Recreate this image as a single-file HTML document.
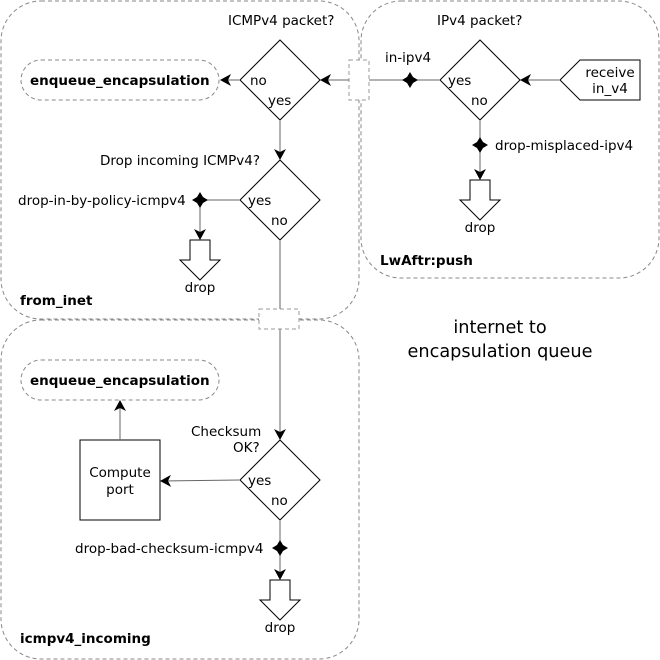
<!DOCTYPE html>
<html><head><meta charset="utf-8"><style>body{margin:0;background:#fff}svg{display:block}</style></head><body>
<svg width="660" height="660" viewBox="0 0 660 660" xmlns="http://www.w3.org/2000/svg" font-family="DejaVu Sans, Liberation Sans, sans-serif" font-size="13.5">
<defs>
<marker id="a" markerWidth="12" markerHeight="12" refX="10" refY="6" orient="auto" markerUnits="userSpaceOnUse"><path d="M0,0 L11,6 L0,12 L3,6 Z" fill="#000"/></marker>
</defs>
<g fill="none" stroke="#888" stroke-dasharray="4,3">
<rect x="1" y="1" width="358" height="318" rx="40"/>
<rect x="361" y="1" width="298" height="277" rx="40"/>
<rect x="1" y="320" width="358" height="339" rx="40"/>
<rect x="21" y="60" width="198" height="40" rx="20"/>
<rect x="21" y="360" width="198" height="40" rx="20"/>
</g>
<g fill="#fff" stroke="#999" stroke-dasharray="4,3">
<rect x="349" y="60" width="20" height="40"/>
<rect x="259" y="309" width="40" height="20"/>
</g>
<g stroke="#000" fill="#fff">
<polygon points="280,40 320,80 280,120 240,80"/>
<polygon points="480,40 520,80 480,120 440,80"/>
<polygon points="280,160 320,200 280,240 240,200"/>
<polygon points="280,440 320,480 280,520 240,480"/>
<polygon points="560,80 580,60 640,60 640,100 580,100"/>
<rect x="80" y="440" width="80" height="80"/>
<polygon points="190,240 210,240 210,260 220,260 200,280 180,260 190,260"/>
<polygon points="470,180 490,180 490,200 500,200 480,220 460,200 470,200"/>
<polygon points="270,580 290,580 290,600 300,600 280,620 260,600 270,600"/>
</g>
<g stroke="#666" fill="none">
<line x1="560" y1="80" x2="521" y2="80" marker-end="url(#a)"/>
<line x1="440" y1="80" x2="369" y2="80"/>
<line x1="349" y1="80" x2="321" y2="80" marker-end="url(#a)"/>
<line x1="240" y1="80" x2="221" y2="80" marker-end="url(#a)"/>
<line x1="280" y1="120" x2="280" y2="159" marker-end="url(#a)"/>
<line x1="240" y1="200" x2="200" y2="200"/>
<line x1="200" y1="200" x2="200" y2="239" marker-end="url(#a)"/>
<line x1="480" y1="120" x2="480" y2="179" marker-end="url(#a)"/>
<line x1="280" y1="240" x2="280" y2="309"/>
<line x1="280" y1="329" x2="280" y2="439" marker-end="url(#a)"/>
<line x1="240" y1="480" x2="161" y2="481" marker-end="url(#a)"/>
<line x1="120" y1="440" x2="120" y2="401" marker-end="url(#a)"/>
<line x1="280" y1="520" x2="280" y2="579" marker-end="url(#a)"/>
</g>
<g fill="#000">
<path d="M410,72 L413,77 L418,80 L413,83 L410,88 L407,83 L402,80 L407,77Z"/>
<path d="M200,192 L203,197 L208,200 L203,203 L200,208 L197,203 L192,200 L197,197Z"/>
<path d="M480,137 L483,142 L488,145 L483,148 L480,153 L477,148 L472,145 L477,142Z"/>
<path d="M280,540 L283,545 L288,548 L283,551 L280,556 L277,551 L272,548 L277,545Z"/>
</g>
<g fill="#000">
<text x="228" y="25">ICMPv4 packet?</text>
<text x="437" y="25">IPv4 packet?</text>
<text x="385" y="62">in-ipv4</text>
<text x="250" y="85">no</text>
<text x="268" y="105">yes</text>
<text x="448" y="85">yes</text>
<text x="471" y="105">no</text>
<text x="610" y="77" text-anchor="middle">receive</text>
<text x="610" y="93" text-anchor="middle">in_v4</text>
<text x="495" y="150">drop-misplaced-ipv4</text>
<text x="480" y="232" text-anchor="middle">drop</text>
<text x="100" y="165">Drop incoming ICMPv4?</text>
<text x="18" y="205">drop-in-by-policy-icmpv4</text>
<text x="248" y="205">yes</text>
<text x="271" y="225">no</text>
<text x="200" y="292" text-anchor="middle">drop</text>
<text x="191" y="436">Checksum</text>
<text x="233" y="452">OK?</text>
<text x="248" y="485">yes</text>
<text x="271" y="505">no</text>
<text x="120" y="477" text-anchor="middle">Compute</text>
<text x="120" y="494" text-anchor="middle">port</text>
<text x="75" y="553">drop-bad-checksum-icmpv4</text>
<text x="280" y="632" text-anchor="middle">drop</text>
<g font-weight="bold">
<text x="30" y="85">enqueue_encapsulation</text>
<text x="30" y="385">enqueue_encapsulation</text>
<text x="20" y="305">from_inet</text>
<text x="380" y="265">LwAftr:push</text>
<text x="20" y="643">icmpv4_incoming</text>
</g>
<text x="500" y="333" text-anchor="middle" font-size="17.7">internet to</text>
<text x="500" y="357" text-anchor="middle" font-size="17.7">encapsulation queue</text>
</g>
</svg>
</body></html>
